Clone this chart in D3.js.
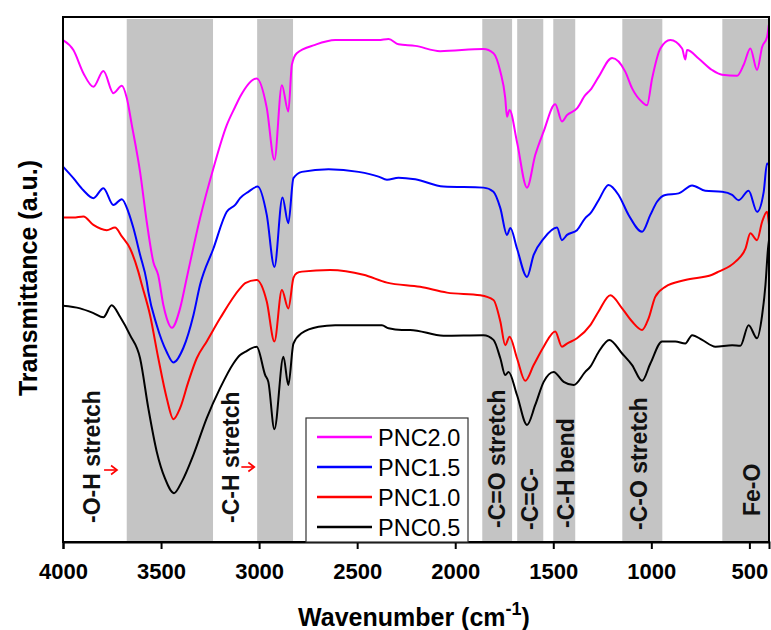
<!DOCTYPE html>
<html>
<head>
<meta charset="utf-8">
<script src="https://cdn.jsdelivr.net/npm/d3@7"></script>
<style>
  html, body { margin: 0; padding: 0; background: #ffffff; }
  svg { display: block; font-family: Arial, "Liberation Sans", sans-serif; }
</style>
</head>
<body>
<svg id="chart" width="771" height="630"></svg>
<script>
// ---------- data (wavenumber cm^-1, transmittance a.u.) ----------
const seriesNames = ["PNC2.0", "PNC1.5", "PNC1.0", "PNC0.5"];
const seriesColors = ["#ff00ff", "#0000ff", "#ff0000", "#000000"];
const xTicks = [4000, 3500, 3000, 2500, 2000, 1500, 1000, 500];

const pnc20 = [[4000,95.6],[3947,93.7],[3896,89.3],[3845,86.7],[3794,89.7],[3743,85.5],[3700,86.9],[3675,84.6],[3649,79.4],[3607,70.5],[3573,61.0],[3539,53.3],[3515,50.9],[3488,45.1],[3471,42.6],[3445,40.8],[3403,44.5],[3369,50.3],[3301,61.7],[3233,71.2],[3165,79.4],[3122,82.9],[3097,84.8],[3012,88.3],[2961,82.7],[2922,72.8],[2884,87.0],[2851,82.0],[2833,90.9],[2808,93.1],[2714,94.7],[2612,95.6],[2391,95.6],[2340,95.8],[2289,94.8],[2204,94.5],[2077,93.5],[1856,93.9],[1805,93.1],[1770,89.6],[1745,84.6],[1736,81.0],[1723,82.3],[1685,76.2],[1634,67.5],[1592,73.7],[1549,78.2],[1490,83.4],[1456,80.1],[1430,81.3],[1379,82.6],[1337,85.1],[1311,86.1],[1269,88.6],[1200,92.2],[1133,89.6],[1098,86.4],[1047,83.8],[1022,83.2],[996,88.3],[954,94.0],[903,95.6],[843,94.0],[827,91.9],[818,93.7],[759,92.1],[690,89.9],[639,89.0],[563,88.8],[529,90.9],[495,94.0],[461,89.9],[435,94.3],[410,96.2],[401,98.5]];

const pnc15 = [[4000,71.5],[3947,69.3],[3896,67.0],[3845,65.5],[3794,67.4],[3743,64.2],[3700,65.3],[3667,62.9],[3641,59.8],[3607,54.7],[3573,49.6],[3565,47.7],[3522,41.3],[3471,36.2],[3437,34.2],[3386,37.0],[3335,43.2],[3301,49.0],[3233,55.9],[3165,62.9],[3122,64.2],[3097,65.5],[3055,66.7],[3007,67.7],[2961,62.3],[2922,52.4],[2881,65.6],[2851,60.7],[2825,69.3],[2782,70.5],[2646,71.0],[2493,70.5],[2391,69.6],[2348,69.0],[2289,69.4],[2204,69.1],[2060,67.7],[1856,67.5],[1805,66.7],[1770,63.6],[1736,58.5],[1719,59.8],[1685,55.9],[1634,50.5],[1600,54.7],[1549,57.8],[1481,59.9],[1456,57.5],[1430,58.5],[1379,59.4],[1337,61.7],[1311,62.6],[1269,65.1],[1218,68.0],[1167,66.1],[1116,62.3],[1047,59.1],[1005,62.3],[971,64.8],[929,66.1],[861,66.4],[792,67.9],[725,66.9],[639,66.7],[588,66.1],[555,65.1],[504,66.9],[461,62.9],[427,66.7],[410,72.1],[400,71.8]];

const pnc10 = [[4000,61.8],[3947,61.8],[3896,62.0],[3845,60.4],[3777,59.4],[3735,59.9],[3700,58.2],[3658,55.9],[3616,51.5],[3598,49.0],[3556,43.2],[3514,35.0],[3471,27.4],[3437,23.4],[3403,25.5],[3361,30.5],[3318,35.0],[3267,38.2],[3199,42.6],[3097,48.3],[3071,49.3],[3012,49.9],[2961,45.8],[2922,38.2],[2884,48.0],[2851,44.5],[2825,50.3],[2808,51.2],[2782,51.5],[2638,51.8],[2468,50.9],[2348,49.4],[2179,48.6],[2042,47.5],[1872,47.0],[1805,46.1],[1770,42.0],[1745,37.5],[1723,39.1],[1685,35.0],[1643,30.7],[1600,33.7],[1549,37.2],[1490,40.1],[1456,37.2],[1430,37.8],[1379,38.8],[1311,41.3],[1269,43.9],[1209,47.0],[1149,44.5],[1098,42.0],[1047,40.4],[1014,42.6],[980,46.7],[929,48.6],[827,49.9],[690,50.9],[657,51.5],[571,53.4],[520,55.9],[495,58.8],[461,57.5],[435,61.0],[410,62.9],[400,60.4]];

const pnc05 = [[4000,45.0],[3913,44.5],[3845,43.6],[3794,42.8],[3752,45.1],[3709,42.9],[3658,39.4],[3607,35.0],[3565,25.5],[3522,17.2],[3480,12.1],[3434,9.3],[3394,11.5],[3335,16.6],[3267,23.6],[3199,29.3],[3131,34.0],[3097,35.6],[3071,36.2],[3012,37.2],[2969,31.8],[2953,30.5],[2922,21.5],[2876,35.3],[2851,29.9],[2825,37.8],[2782,39.8],[2697,41.0],[2612,41.3],[2374,41.3],[2340,40.7],[2272,40.4],[2230,40.4],[2060,39.3],[1856,39.4],[1805,38.5],[1770,35.0],[1745,31.8],[1728,32.4],[1685,28.0],[1634,22.3],[1592,26.1],[1549,30.5],[1498,32.4],[1447,30.5],[1396,29.9],[1337,32.4],[1311,33.4],[1269,36.2],[1214,38.5],[1149,35.9],[1098,33.7],[1047,30.7],[1005,34.0],[945,38.2],[878,38.2],[827,37.8],[792,39.4],[741,38.5],[673,37.2],[588,37.5],[546,37.4],[504,41.3],[461,38.8],[435,43.2],[418,49.0],[405,55.9],[400,57.5]];

const seriesData = [pnc20, pnc15, pnc10, pnc05];

// shaded bands (from, to) in cm^-1 and their labels
const bandRanges = [[3675,3235],[3010,2827],[1862,1710],[1684,1551],[1500,1388],[1148,944],[638,405]];
const bandLabels = ["-O-H stretch", "-C-H stretch", "-C=O stretch", "-C=C-", "-C-H bend", "-C-O stretch", "Fe-O"];
const labelWavenumbers = [3853, 3144, 1788, 1619, 1435, 1064, 488];

// ---------- layout ----------
const svg = d3.select("#chart");
const M = {left: 63, right: 769, top: 17, bottom: 542};

const x = d3.scaleLinear().domain([4000, 400]).range([M.left, M.right]);
const y = d3.scaleLinear().domain([0, 100]).range([M.bottom, M.top]);

svg.append("rect").attr("width", 771).attr("height", 630).attr("fill", "#fff");

svg.append("defs").append("clipPath").attr("id", "clip")
  .append("rect").attr("x", M.left).attr("y", M.top)
  .attr("width", M.right - M.left).attr("height", M.bottom - M.top);

// bands
svg.append("g").selectAll("rect").data(bandRanges).join("rect")
  .attr("x", d => x(d[0]))
  .attr("width", d => x(d[1]) - x(d[0]))
  .attr("y", M.top + 2)
  .attr("height", M.bottom - M.top - 2)
  .attr("fill", "#c4c4c4");

// curves
const line = d3.line().x(d => x(d[0])).y(d => y(d[1])).curve(d3.curveMonotoneX);
const order = [3, 2, 1, 0];
svg.append("g").attr("clip-path", "url(#clip)").selectAll("path").data(order).join("path")
  .attr("d", i => line(seriesData[i]))
  .attr("fill", "none")
  .attr("stroke", i => seriesColors[i])
  .attr("stroke-width", 2)
  .attr("stroke-linejoin", "round");

// band labels (rotated)
const labelX = [97, 238, 505, 538, 573, 652, 758];
const labelY = [523, 523, 528, 530, 528, 530, 516];
svg.append("g").selectAll("text").data(bandLabels).join("text")
  .attr("transform", (d, i) => `translate(${x(labelWavenumbers[i]) + 8},${labelY[i]}) rotate(-90)`)
  .attr("font-size", 23).attr("font-weight", "bold").attr("fill", "#111")
  .text(d => d);

// red arrows
const arrowAt = [[3760, 470], [3060, 467]];
const ag = svg.append("g");
arrowAt.forEach(a => {
  const ax = x(a[0]);
  ag.append("line").attr("x1", ax - 6).attr("x2", ax + 6).attr("y1", a[1]).attr("y2", a[1])
    .attr("stroke", "#ff0000").attr("stroke-width", 1.6);
  ag.append("path").attr("d", `M${ax + 1},${a[1] - 4.5} L${ax + 7},${a[1]} L${ax + 1},${a[1] + 4.5}`)
    .attr("fill", "none").attr("stroke", "#ff0000").attr("stroke-width", 1.6);
});

// frame
svg.append("rect").attr("x", M.left).attr("y", M.top)
  .attr("width", M.right - M.left).attr("height", M.bottom - M.top)
  .attr("fill", "none").attr("stroke", "#000").attr("stroke-width", 2);

// x axis
const xAxis = svg.append("g").attr("transform", `translate(0,${M.bottom})`)
  .call(d3.axisBottom(x).tickValues(xTicks).tickSize(7).tickPadding(14).tickFormat(d3.format("d")));
xAxis.select(".domain").attr("stroke-width", 2);
xAxis.selectAll(".tick line").attr("stroke-width", 2);
xAxis.selectAll(".tick text").attr("font-size", 22).attr("font-weight", "bold")
  .attr("font-family", "Arial, 'Liberation Sans', sans-serif").attr("fill", "#000");

// legend
const lg = svg.append("g");
lg.append("rect").attr("x", 306).attr("y", 418).attr("width", 162).attr("height", 124)
  .attr("fill", "#fff").attr("stroke", "#333").attr("stroke-width", 1.2);
seriesNames.forEach((n, i) => {
  const ly = 437 + i * 30;
  lg.append("line").attr("x1", 317).attr("x2", 372).attr("y1", ly).attr("y2", ly)
    .attr("stroke", seriesColors[i]).attr("stroke-width", 2.5);
  lg.append("text").attr("x", 378).attr("y", ly + 8.5).attr("font-size", 23.5)
    .attr("fill", "#000").text(n);
});

// axis titles
const xt = svg.append("text").attr("x", 414).attr("y", 626).attr("text-anchor", "middle")
  .attr("font-size", 25).attr("font-weight", "bold").attr("fill", "#000");
xt.append("tspan").text("Wavenumber (cm");
xt.append("tspan").attr("dy", -11).attr("font-size", 18).text("-1");
xt.append("tspan").attr("dy", 11).text(")");

svg.append("text").attr("transform", "translate(37,278) rotate(-90)")
  .attr("text-anchor", "middle").attr("font-size", 25).attr("font-weight", "bold")
  .attr("fill", "#000").text("Transmittance (a.u.)");
</script>
</body>
</html>
